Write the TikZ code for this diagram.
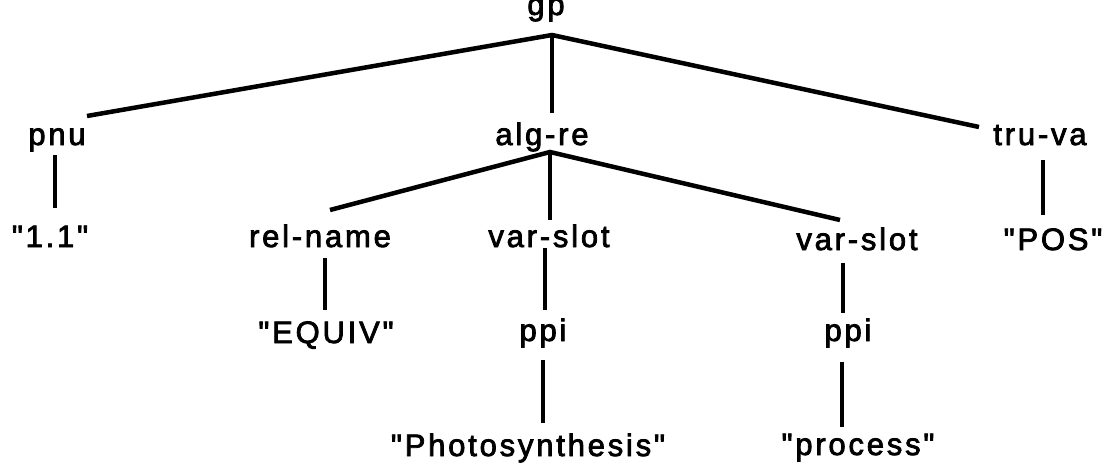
\documentclass[tikz,border=0pt]{standalone}
\usepackage{fontspec}
\newfontfamily\lblfont{Liberation Sans}[LetterSpace=9,FakeBold=2.5]
\begin{document}
\begin{tikzpicture}[x=1pt,y=-1pt,
  lbl/.style={anchor=base, inner sep=0pt, font=\lblfont\fontsize{31}{34}\selectfont},
  edge/.style={line width=4.5pt}]
\fill[white] (0,0) rectangle (1104,469);
\useasboundingbox (0,0) rectangle (1104,469);
% nodes
\node[lbl] (gp) at (546,15) {gp};
\node[lbl] (pnu) at (57,145) {pnu};
\node[lbl] (algre) at (542,145) {alg-re};
\node[lbl] (truva) at (1040,145) {tru-va};
\node[lbl] (one) at (50,247) {"1.1"};
\node[lbl] (relname) at (320,247) {rel-name};
\node[lbl] (varA) at (549,247) {var-slot};
\node[lbl] (varB) at (857,250) {var-slot};
\node[lbl] (pos) at (1053,250) {"POS"};
\node[lbl] (equiv) at (326,343) {"EQUIV"};
\node[lbl] (ppiA) at (543,341) {ppi};
\node[lbl] (ppiB) at (848,341) {ppi};
\node[lbl] (photo) at (528,456) {"Photosynthesis"};
\node[lbl] (proc) at (858,455) {"process"};
% junctions and line ends
\coordinate (gpj) at (552,35);
\coordinate (pnuT) at (87,116);
\coordinate (algT) at (552,113);
\coordinate (truT) at (979,127);
\coordinate (algj) at (550,152);
\coordinate (relT) at (330,210);
\coordinate (varAT) at (550,220);
\coordinate (varBT) at (840,220);
\coordinate (pnuB) at (55,155);
\coordinate (oneT) at (55,208);
\coordinate (truB) at (1043,160);
\coordinate (posT) at (1043,215);
\coordinate (relB) at (325,258);
\coordinate (equivT) at (325,310);
\coordinate (varAB) at (545,248);
\coordinate (ppiAT) at (545,310);
\coordinate (varBB) at (843,263);
\coordinate (ppiBT) at (843,313);
\coordinate (ppiAB) at (543,360);
\coordinate (photoT) at (543,423);
\coordinate (ppiBB) at (842,362);
\coordinate (procT) at (842,427);
% edges
\draw[edge] (pnuT) -- (gpj) -- (truT);
\draw[edge] (gpj) -- (algT);
\draw[edge] (relT) -- (algj) -- (varBT);
\draw[edge] (algj) -- (varAT);
\draw[edge] (pnuB) -- (oneT);
\draw[edge] (truB) -- (posT);
\draw[edge] (relB) -- (equivT);
\draw[edge] (varAB) -- (ppiAT);
\draw[edge] (varBB) -- (ppiBT);
\draw[edge] (ppiAB) -- (photoT);
\draw[edge] (ppiBB) -- (procT);
\end{tikzpicture}
\end{document}
